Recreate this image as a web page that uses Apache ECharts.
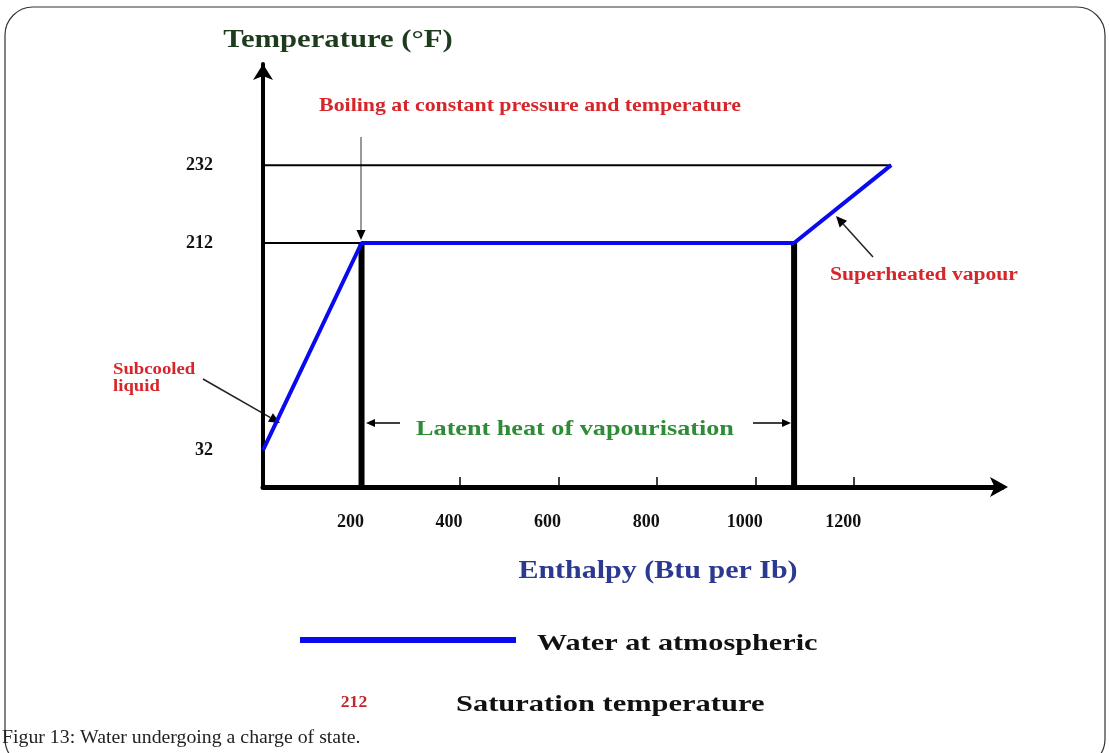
<!DOCTYPE html>
<html>
<head>
<meta charset="utf-8">
<title>Water undergoing a change of state</title>
<script src="https://cdn.jsdelivr.net/npm/echarts@6/dist/echarts.min.js"></script>
<style>
  body { margin: 0; padding: 0; background: #fff; }
  #main { width: 1109px; height: 753px; }
</style>
</head>
<body>
<div id="main"></div>
<script>
// heating path of water: [enthalpy Btu/lb, temperature F]
var liquidPath = [[0, 32], [200, 212], [1078, 212]];
var vapourPath = [[1078, 212], [1275, 232]];
// saturated liquid / saturated vapour markers
var satLiquid = [[200, 0], [200, 212]];
var satVapour = [[1078, 0], [1078, 212]];
// guide lines to the temperature axis
var guide212 = [[0, 212], [200, 212]];
var guide232 = [[0, 232], [1275, 232]];
var xTicks = [200, 400, 600, 800, 1000, 1200];
var yTicksLow = [32, 212];
var yTicksHigh = [232];

var serif = '"Liberation Serif", "Times New Roman", serif';
var blue = '#0a0aee';

var chart = echarts.init(document.getElementById('main'));

function label(text, x, y, size, color, align, sx, weight) {
  return {
    type: 'text', x: x, y: y, scaleX: sx || 1, z: 10,
    style: {
      text: text, fontSize: size, fontWeight: weight || 'bold', fontFamily: serif,
      fill: color, align: align, verticalAlign: 'middle', lineHeight: size + 1
    }
  };
}

function arrow(x1, y1, x2, y2, lineColor, head) {
  var a = Math.atan2(y2 - y1, x2 - x1);
  var bx = x2 - head * Math.cos(a), by = y2 - head * Math.sin(a);
  var w = head * 0.45;
  return {
    type: 'group', z: 10,
    children: [
      { type: 'line', shape: { x1: x1, y1: y1, x2: bx, y2: by }, style: { stroke: lineColor, lineWidth: 1.5 } },
      { type: 'polygon', shape: { points: [[x2, y2], [bx - w * Math.sin(a), by + w * Math.cos(a)], [bx + w * Math.sin(a), by - w * Math.cos(a)]] }, style: { fill: '#000' } }
    ]
  };
}

function path(data, grid, color, width, z) {
  return {
    type: 'line', xAxisIndex: grid, yAxisIndex: grid, data: data,
    symbol: 'none', clip: false, silent: true, z: z,
    lineStyle: { color: color, width: width, cap: 'butt' }
  };
}

var tickLabel = {
  fontFamily: serif, fontWeight: 'bold', fontSize: 18, color: '#111',
  formatter: function (v) { return String(v); }
};

var option = {
  animation: false,
  backgroundColor: '#fff',
  grid: [
    { left: 263, right: 107, top: 243, bottom: 266 },
    { left: 263, right: 107, top: 64, bottom: 510 }
  ],
  xAxis: [
    {
      gridIndex: 0, type: 'value', min: 0, max: 1500,
      splitLine: { show: false },
      axisLine: { show: true, symbol: ['none', 'arrow'], symbolSize: [15, 18], symbolOffset: [0, 6], lineStyle: { color: '#000', width: 5 } },
      axisTick: { show: true, customValues: xTicks, inside: true, length: 10, lineStyle: { color: '#000', width: 1.5 } },
      axisLabel: Object.assign({ customValues: xTicks, margin: 26, padding: [0, 22, 0, 0] }, tickLabel)
    },
    { gridIndex: 1, type: 'value', min: 0, max: 1500, show: false }
  ],
  yAxis: [
    {
      gridIndex: 0, type: 'value', min: 0, max: 212,
      splitLine: { show: false },
      axisLine: { show: true, lineStyle: { color: '#000', width: 4 } },
      axisTick: { show: false },
      axisLabel: Object.assign({ customValues: yTicksLow, margin: 50 }, tickLabel)
    },
    {
      gridIndex: 1, type: 'value', min: 212, max: 258,
      splitLine: { show: false },
      axisLine: { show: true, symbol: ['none', 'arrow'], symbolSize: [15, 16], lineStyle: { color: '#000', width: 4 } },
      axisTick: { show: false },
      axisLabel: Object.assign({ customValues: yTicksHigh, margin: 50 }, tickLabel)
    }
  ],
  series: [
    path(satLiquid, 0, '#000', 6, 2),
    path(satVapour, 0, '#000', 6, 2),
    path(guide212, 0, '#000', 2, 2),
    path(guide232, 1, '#000', 2, 2),
    path(liquidPath, 0, blue, 4, 5),
    path(vapourPath, 1, blue, 4, 5)
  ],
  graphic: [
    // figure frame
    { type: 'rect', z: 0, shape: { x: 5, y: 7, width: 1100, height: 760, r: 28 }, style: { fill: 'none', stroke: '#333', lineWidth: 1.2 } },
    label('Temperature (°F)', 338, 40, 26, '#1e3b1e', 'center', 1.18),
    label('Enthalpy (Btu per Ib)', 658, 572, 25, '#2b3990', 'center', 1.2),
    label('Boiling at constant pressure and temperature', 530, 106, 19, '#d7262b', 'center', 1.15),
    label('Superheated vapour', 924, 275, 18, '#d7262b', 'center', 1.2),
    label('Subcooled\nliquid', 113, 378, 16, '#d7262b', 'left', 1.17),
    label('Latent heat of vapourisation', 575, 429, 22, '#2e8b36', 'center', 1.19),
    arrow(361, 137, 361, 240, '#777', 10),
    arrow(400, 423, 366, 423, '#000', 9),
    arrow(753, 423, 791, 423, '#000', 9),
    arrow(203, 379, 280, 423, '#222', 11),
    arrow(873, 257, 836, 216, '#222', 11),
    // legend
    { type: 'line', z: 10, shape: { x1: 300, y1: 640, x2: 516, y2: 640 }, style: { stroke: blue, lineWidth: 6 } },
    label('Water at atmospheric', 537, 644, 24, '#111', 'left', 1.26),
    label('212', 354, 703, 16, '#c0282d', 'center', 1.1),
    label('Saturation temperature', 456, 705, 24, '#111', 'left', 1.27),
    label('Figur 13: Water undergoing a charge of state.', 2, 738, 18, '#222', 'left', 1.1, 'normal')
  ]
};

chart.setOption(option);
</script>
</body>
</html>
